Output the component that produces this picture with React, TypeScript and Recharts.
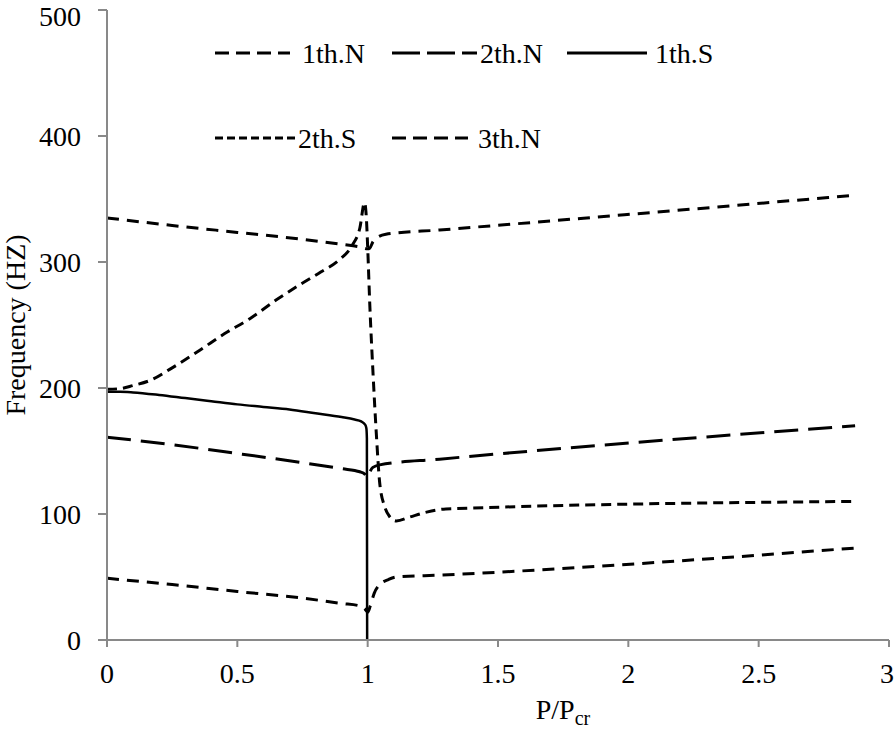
import React from "react";
import { LineChart, Line, XAxis, YAxis } from "recharts";

// P/Pcr values and frequencies, one pair of arrays per mode
const n1X = [0, 0.25, 0.5, 0.76, 0.9, 0.97, 0.99, 1.0, 1.01, 1.025, 1.046, 1.08, 1.11, 1.276, 2.87];
const n1Y = [49, 44, 38.5, 33, 29, 27, 24.5, 22, 27, 37, 44, 48, 50, 51.5, 73];

const n2X = [0, 0.25, 0.5, 0.74, 0.9, 0.97, 0.99, 1.0, 1.01, 1.02, 1.046, 1.276, 2.87];
const n2Y = [161, 155, 148, 141, 136, 133.5, 131.5, 129, 134, 137, 139, 143.5, 170];

const s1X = [0, 0.05, 0.1, 0.2, 0.3, 0.4, 0.5, 0.6, 0.7, 0.8, 0.9, 0.95, 0.975, 0.99, 0.995, 0.997, 0.998];
const s1Y = [197, 197, 196.5, 194.5, 192, 189.5, 187, 185, 183, 180, 177, 175, 173.5, 171, 168, 160, 0];

const s2X = [0, 0.05, 0.1, 0.165, 0.25, 0.356, 0.45, 0.548, 0.65, 0.74, 0.82, 0.89, 0.94, 0.97, 0.988, 0.995, 1.0, 1.008, 1.02, 1.034, 1.046, 1.065, 1.084, 1.11, 1.16, 1.226, 1.3, 2.87];
const s2Y = [199, 199.5, 202, 206, 216, 230, 243, 255, 270, 282, 292, 301.5, 313, 327, 347, 335, 312, 267, 214, 161, 125, 106, 98, 94.5, 97.5, 101.5, 104, 110];

const n3X = [0, 0.25, 0.5, 0.75, 0.9, 0.97, 1.0, 1.008, 1.02, 1.034, 1.07, 1.276, 2.87];
const n3Y = [335, 329, 323.5, 318, 314, 312, 310.5, 311, 316, 319, 322, 325.4, 353];

const xTicks = [0, 0.5, 1, 1.5, 2, 2.5, 3];
const yTicks = [0, 100, 200, 300, 400, 500];

const toPoints = (xs: number[], ys: number[]) => xs.map((x, i) => ({ x, y: ys[i] }));

const FONT = "Liberation Serif, Times New Roman, DejaVu Serif, serif";
const AXIS_GRAY = "#898989";
const textStyle = { fontFamily: FONT, fontSize: 28 };

const series = [
    { name: "1th.N", data: toPoints(n1X, n1Y), dash: "12 8", width: 3 },
    { name: "2th.N", data: toPoints(n2X, n2Y), dash: "24 10", width: 3 },
    { name: "1th.S", data: toPoints(s1X, s1Y), dash: undefined, width: 2.5 },
    { name: "2th.S", data: toPoints(s2X, s2Y), dash: "10 6", width: 3 },
    { name: "3th.N", data: toPoints(n3X, n3Y), dash: "12 8", width: 3 },
];

// legend placement, as in the figure (two rows inside the plot)
const legendItems = [
    { name: "1th.N", x1: 215, x2: 290, tx: 302, row: 0, dash: "14 7" },
    { name: "2th.N", x1: 392, x2: 477, tx: 480, row: 0, dash: "28 7" },
    { name: "1th.S", x1: 567, x2: 647, tx: 655, row: 0, dash: undefined },
    { name: "2th.S", x1: 215, x2: 295, tx: 298, row: 1, dash: "8 4" },
    { name: "3th.N", x1: 392, x2: 468, tx: 478, row: 1, dash: "14 7" },
];
const rowY = [53, 138];

const YLabel = (props: any) => {
    const { viewBox } = props;
    const cx = viewBox.x + 25;
    const cy = viewBox.y + viewBox.height / 2;
    return (
        <text x={cx} y={cy} transform={`rotate(-90, ${cx}, ${cy})`} textAnchor="middle"
            style={textStyle} fill="#000">
            Frequency (HZ)
        </text>
    );
};

const XLabel = (props: any) => {
    const { viewBox } = props;
    const cx = viewBox.x + viewBox.width / 2 + 65;
    return (
        <text x={cx} y={viewBox.y + 79} textAnchor="middle" style={textStyle} fill="#000">
            P/P<tspan style={{ fontSize: 20 }} dy={6}>cr</tspan>
        </text>
    );
};

const App = () => {
    return (
        <div style={{ position: "relative", width: 894, height: 730, background: "#fff", fontFamily: FONT }}>
            <style>{"body{margin:0} svg text{font-family:'Liberation Serif','Times New Roman',serif}"}</style>
            <LineChart width={894} height={730} margin={{ top: 10, right: 5, left: 0, bottom: 0 }}>
                <XAxis
                    xAxisId="bottom"
                    dataKey="x"
                    type="number"
                    domain={[0, 3]}
                    ticks={xTicks}
                    height={90}
                    tickSize={7}
                    tickMargin={16}
                    axisLine={{ stroke: AXIS_GRAY, strokeWidth: 2 }}
                    tickLine={{ stroke: AXIS_GRAY, strokeWidth: 2 }}
                    tick={{ fill: "#000", fontSize: 28, style: textStyle }}
                    label={{ content: XLabel }}
                />
                <XAxis
                    xAxisId="top"
                    orientation="top"
                    dataKey="x"
                    type="number"
                    domain={[0, 3]}
                    height={0}
                    tick={false}
                    tickLine={false}
                    axisLine={{ stroke: "#000", strokeWidth: 3 }}
                />
                <YAxis
                    yAxisId="left"
                    type="number"
                    domain={[0, 500]}
                    ticks={yTicks}
                    width={107}
                    tickSize={9}
                    tickMargin={17}
                    axisLine={{ stroke: AXIS_GRAY, strokeWidth: 2 }}
                    tickLine={{ stroke: AXIS_GRAY, strokeWidth: 2 }}
                    tick={{ fill: "#000", fontSize: 28, style: textStyle }}
                    label={{ content: YLabel }}
                />
                <YAxis
                    yAxisId="right"
                    orientation="right"
                    type="number"
                    domain={[0, 500]}
                    width={0}
                    tick={false}
                    tickLine={false}
                    axisLine={{ stroke: "#000", strokeWidth: 2 }}
                />
                {series.map((s) => (
                    <Line
                        key={s.name}
                        xAxisId="bottom"
                        yAxisId="left"
                        data={s.data}
                        dataKey="y"
                        name={s.name}
                        type="monotone"
                        stroke="#000"
                        strokeWidth={s.width}
                        strokeDasharray={s.dash}
                        dot={false}
                        activeDot={false}
                        isAnimationActive={false}
                    />
                ))}
            </LineChart>
            <svg width={894} height={170} style={{ position: "absolute", left: 0, top: 0, pointerEvents: "none" }}>
                {legendItems.map((it) => (
                    <g key={it.name}>
                        <line x1={it.x1} x2={it.x2} y1={rowY[it.row]} y2={rowY[it.row]}
                            stroke="#000" strokeWidth={3} strokeDasharray={it.dash} />
                        <text x={it.tx} y={rowY[it.row] + 10} style={textStyle} fill="#000">
                            {it.name}
                        </text>
                    </g>
                ))}
            </svg>
        </div>
    );
};

export default App;
